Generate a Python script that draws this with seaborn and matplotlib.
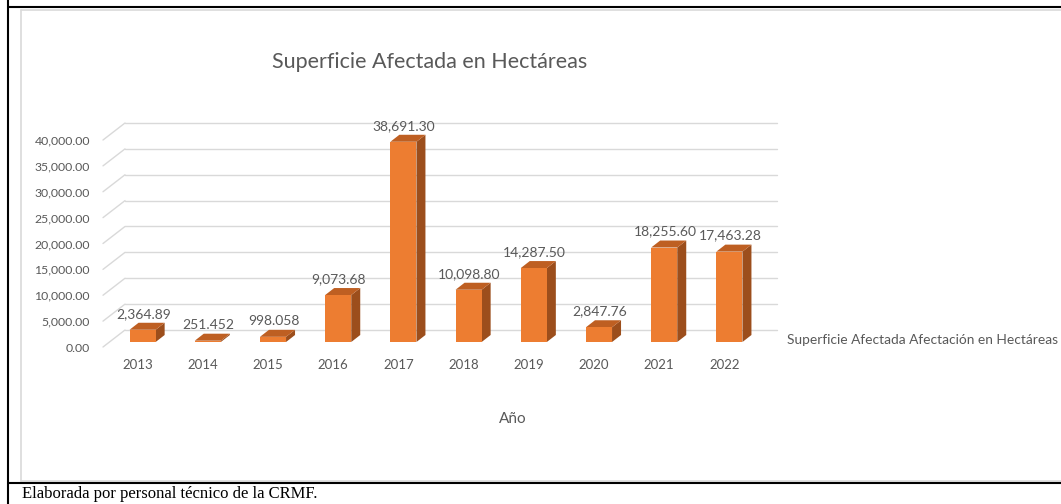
import seaborn as sns
import matplotlib.pyplot as plt
import matplotlib.transforms as mtransforms
from matplotlib.patches import Polygon
from matplotlib.lines import Line2D

# data
years = ['2013', '2014', '2015', '2016', '2017', '2018', '2019', '2020', '2021', '2022']
hectares = [2364.89, 251.452, 998.058, 9073.68, 38691.30, 10098.80, 14287.50, 2847.76, 18255.60, 17463.28]
bar_labels = ['2,364.89', '251.452', '998.058', '9,073.68', '38,691.30',
              '10,098.80', '14,287.50', '2,847.76', '18,255.60', '17,463.28']
y_ticks = [0, 5000, 10000, 15000, 20000, 25000, 30000, 35000, 40000]

sns.set_theme(style='white')
plt.rcParams['font.family'] = ['Lato', 'DejaVu Sans']

W, H = 1061, 504
fig = plt.figure(figsize=(W / 100, H / 100), dpi=100)
fig.patch.set_facecolor('white')

# ax occupies the front plane of the 3d chart (pixel layout)
left_px, right_px, base_px, top_px = 110, 762, 342, 135
ax = fig.add_axes([left_px / W, (H - base_px) / H, (right_px - left_px) / W, (base_px - top_px) / H])
ax.set_facecolor('none')

front = '#ED7D31'
side = '#9C4E1C'
top = '#BE5F22'
text_c = '#595959'
grid_c = '#D9D9D9'

sns.barplot(x=years, y=hectares, color=front, width=0.4, saturation=1, ax=ax, zorder=3,
            edgecolor='none', linewidth=0)
ax.set_xlim(-0.5, len(years) - 0.5)
ax.set_ylim(0, 40000)
for s in ax.spines.values():
    s.set_visible(False)

px_cat = (right_px - left_px) / len(years)
px_unit = (base_px - top_px) / 40000


def dx(p):
    return p / px_cat


def dy(p):
    return p / px_unit


# back wall grid and side wall slants
for v in y_ticks:
    ax.plot([-0.5 + dx(15), len(years) - 0.5 + dx(15)], [v + dy(12), v + dy(12)],
            color=grid_c, lw=1.0, zorder=0, clip_on=False)
    ax.plot([-0.5 - dx(7), -0.5 + dx(15)], [v - dy(5), v + dy(12)],
            color=grid_c, lw=1.0, zorder=0, clip_on=False)

# fake 3d faces on each bar
for bar, lab in zip(ax.patches, bar_labels):
    x0 = bar.get_x()
    x1 = x0 + bar.get_width()
    h = bar.get_height()
    ddx, ddy = dx(9), dy(7)
    ax.add_patch(Polygon([(x1, 0), (x1, h), (x1 + ddx, h + ddy), (x1 + ddx, ddy)],
                         closed=True, fc=side, ec='none', zorder=2, clip_on=False))
    ax.add_patch(Polygon([(x0, h), (x1, h), (x1 + ddx, h + ddy), (x0 + ddx, h + ddy)],
                         closed=True, fc=top, ec='none', zorder=2, clip_on=False))
    ax.annotate(lab, (x0 + bar.get_width() / 2, h), xytext=(0.5, 11.5), textcoords='offset points',
                ha='center', va='center', fontsize=10, color=text_c)

ax.set_yticks(y_ticks)
ax.set_yticklabels(['{:,.2f}'.format(v) for v in y_ticks])
ax.tick_params(axis='y', length=0, pad=14.4, labelsize=8.8, labelcolor=text_c)
ax.tick_params(axis='x', length=0, pad=12, labelsize=9.5, labelcolor=text_c)
ax.set_xlabel('')
ax.set_ylabel('')
for lbl in ax.get_yticklabels():
    lbl.set_transform(lbl.get_transform() + mtransforms.ScaledTranslation(0, -0.05, fig.dpi_scale_trans))
for lbl in ax.get_xticklabels():
    lbl.set_transform(lbl.get_transform() + mtransforms.ScaledTranslation(-0.05, 0, fig.dpi_scale_trans))

fig.text(430 / W, 1 - 62 / H, 'Superficie Afectada en Hectáreas', ha='center', va='center',
         fontsize=15.5, color=text_c)
fig.text(513 / W, 1 - 419 / H, 'Año', ha='center', va='center', fontsize=11, color=text_c)
fig.text(787 / W, 1 - 340 / H, 'Superficie Afectada Afectación en Hectáreas', ha='left', va='center',
         fontsize=9.9, color=text_c)

# table borders around the chart
fig.add_artist(Line2D([21 / W, 21 / W], [1 - 9.5 / H, 1 - 480.5 / H], color='#D9D9D9', lw=1.2))
fig.add_artist(Line2D([21 / W, 1], [1 - 9.5 / H, 1 - 9.5 / H], color='#D9D9D9', lw=1.2))
fig.add_artist(Line2D([21 / W, 1], [1 - 480.5 / H, 1 - 480.5 / H], color='#D9D9D9', lw=1.2))
fig.add_artist(Line2D([7.5 / W, 7.5 / W], [0, 1], color='black', lw=1.5))
fig.add_artist(Line2D([7.5 / W, 1], [1 - 7 / H, 1 - 7 / H], color='black', lw=1.5))
fig.add_artist(Line2D([7.5 / W, 1], [1 - 483 / H, 1 - 483 / H], color='black', lw=1.5))

fig.text(22 / W, 1 - 494 / H, 'Elaborada por personal técnico de la CRMF.', ha='left', va='center',
         fontsize=12, color='black', family=['Liberation Serif', 'DejaVu Serif'])

fig.savefig('out.png', dpi=100)
